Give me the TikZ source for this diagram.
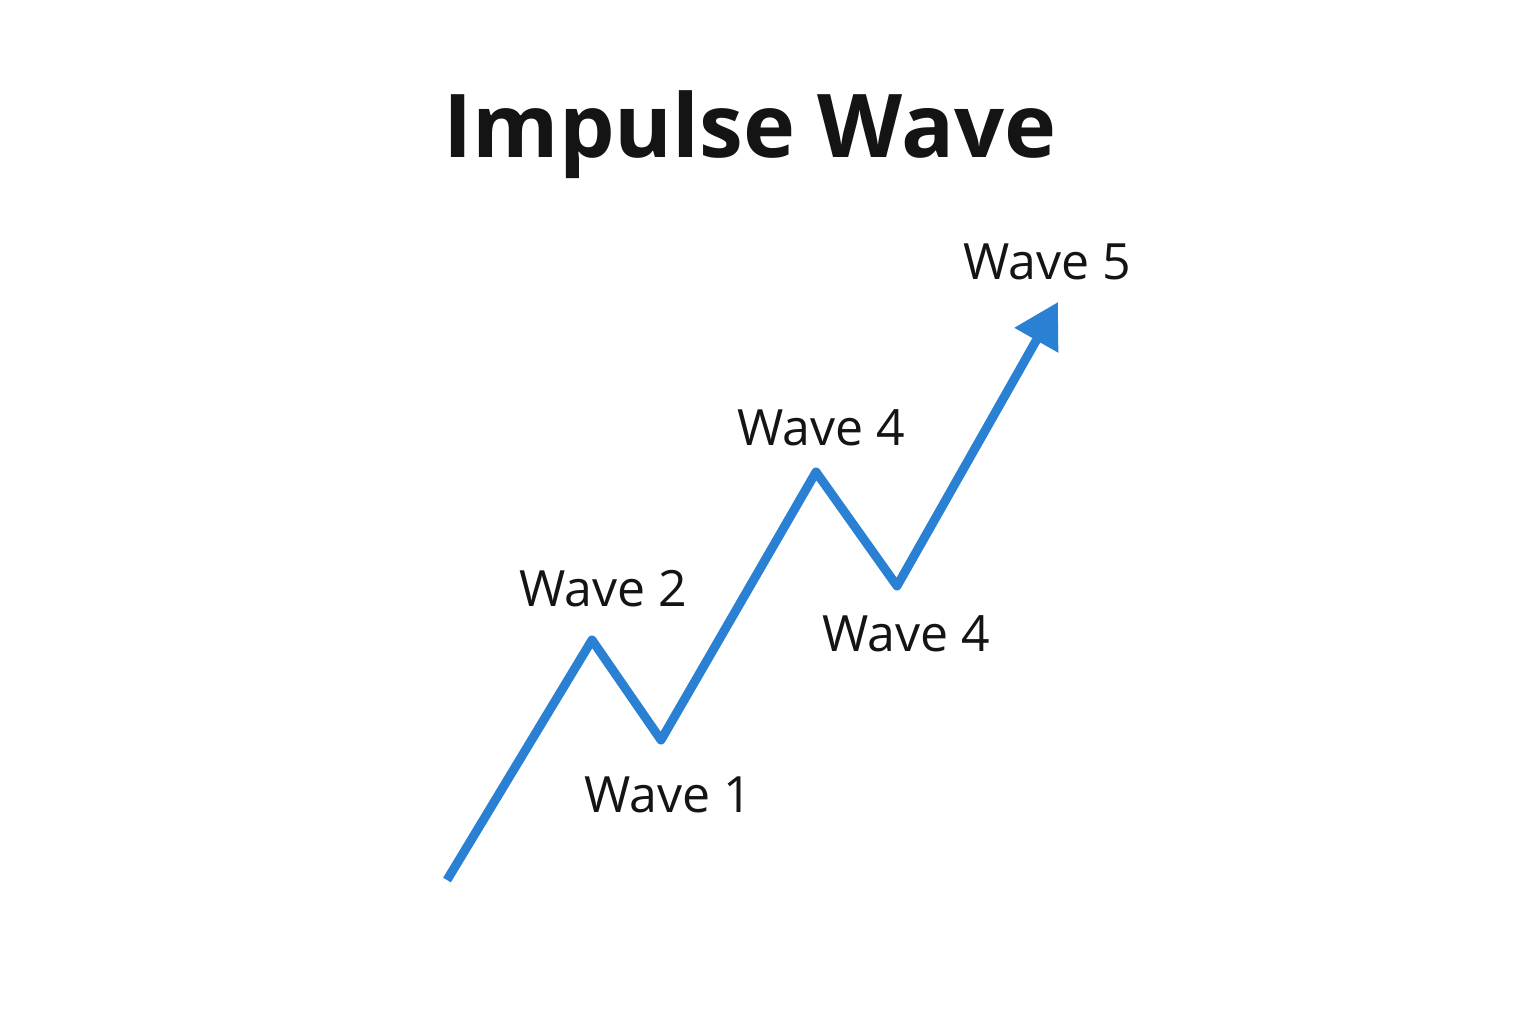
\documentclass[tikz,border=0pt]{standalone}
\usepackage{fontspec}
\setmainfont{Open Sans}
\usetikzlibrary{arrows.meta}
\definecolor{waveblue}{HTML}{2A80D2}
\definecolor{inkc}{HTML}{141414}
\tikzset{
  lbl/.style={font=\fontsize{50}{60}\selectfont, text=inkc, inner sep=0pt, anchor=center},
  ttl/.style={font=\fontsize{88}{100}\selectfont\bfseries, text=inkc, inner sep=0pt, anchor=center},
  wave/.style={draw=waveblue, line width=9pt, line join=round, -{Triangle[length=44pt,width=48pt]}}
}
\begin{document}
\begin{tikzpicture}[x=1pt,y=-1pt]
\useasboundingbox[fill=white] (0,0) rectangle (1536,1024);
\node[ttl] (title) at (750,135) {Impulse Wave};
\coordinate (p0) at (447,880);
\coordinate (p1) at (592,640);
\coordinate (p2) at (661,740);
\coordinate (p3) at (816,472);
\coordinate (p4) at (897,586);
\coordinate (p5) at (1058,302);
\draw[wave] (p0) -- (p1) -- (p2) -- (p3) -- (p4) -- (p5);
\node[lbl] (w2) at (603,589) {Wave 2};
\node[lbl] (w1) at (668,795) {Wave 1};
\node[lbl] (w4a) at (821,428) {Wave 4};
\node[lbl] (w4b) at (906,634) {Wave 4};
\node[lbl] (w5) at (1047,262) {Wave 5};
\end{tikzpicture}
\end{document}
